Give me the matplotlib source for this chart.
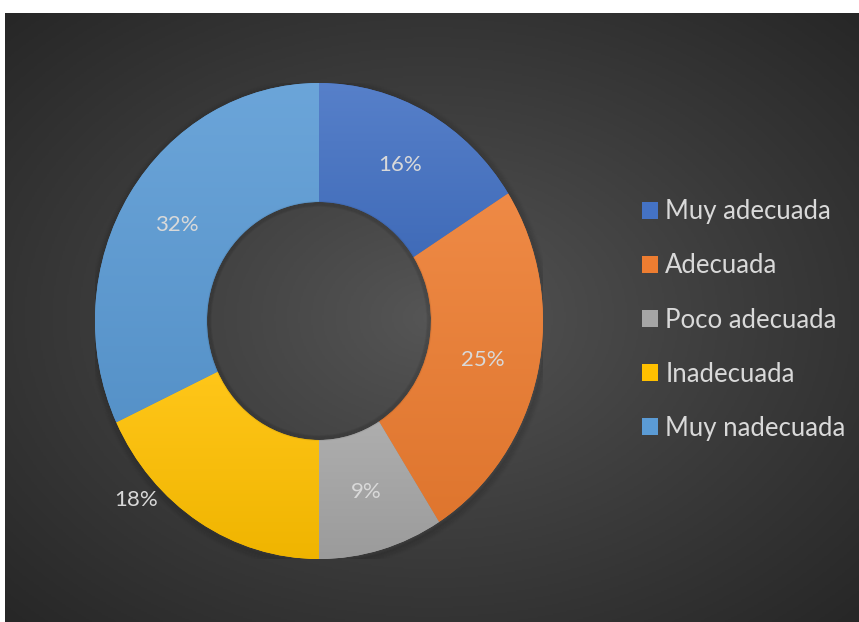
import numpy as np
import matplotlib.pyplot as plt
from matplotlib.colors import to_rgb, LinearSegmentedColormap
from matplotlib.patches import Ellipse

categories = ["Muy adecuada", "Adecuada", "Poco adecuada", "Inadecuada", "Muy nadecuada"]
shares = [16, 25, 9, 18, 32]
colors = ["#4472C4", "#ED7D31", "#A5A5A5", "#FFC000", "#5B9BD5"]

W, H = 859, 622
fig = plt.figure(figsize=(W / 100, H / 100), dpi=100)
fig.patch.set_facecolor("white")

# dark radial background, lighter in the middle
bg = fig.add_axes([5 / W, 0, 854 / W, 609 / H])
yy, xx = np.mgrid[-1:1:400j, -1:1:560j]
rr = np.sqrt(xx ** 2 + yy ** 2) / np.sqrt(2)
shade = np.clip(rr, 0, 1) ** 0.9
bg_cmap = LinearSegmentedColormap.from_list("bg", ["#565656", "#272727"])
bg.imshow(shade, cmap=bg_cmap, aspect="auto", extent=(0, 1, 0, 1), vmin=0, vmax=1)
bg.axis("off")

# donut axes (slightly taller than wide)
cx, cy, rx, ry = 319, 321, 224, 238
ax = fig.add_axes([(cx - rx) / W, (H - cy - ry) / H, 2 * rx / W, 2 * ry / H])
ax.set_facecolor("none")

# soft shadow just outside the ring
for k in range(8):
    s = 1.0 + 0.004 * k
    ax.add_patch(Ellipse((0.006, -0.01), 2 * s, 2 * s, facecolor="none",
                         edgecolor="black", alpha=0.05 * (1 - k / 8), lw=2.0, zorder=0))

wedges, texts, autotexts = ax.pie(
    shares, colors=colors, startangle=90, counterclock=False, radius=1,
    wedgeprops=dict(width=0.5, linewidth=0), autopct="%d%%", pctdistance=0.75,
    textprops=dict(color="#d9d9d9", fontsize=16, family="Lato"))

# shadow along the inner edge of the hole
for k in range(5):
    s = 0.5 - 0.004 * k
    ax.add_patch(Ellipse((0, 0), 2 * s, 2 * s, facecolor="none", edgecolor="black",
                         alpha=0.05, lw=1.5, zorder=3))


def tint(c, f):
    r = np.array(to_rgb(c))
    if f >= 0:
        return tuple(r + (1 - r) * f)
    return tuple(r * (1 + f))


# vertical gradient over each wedge
for w, c in zip(wedges, colors):
    bb = w.get_path().get_extents(w.get_patch_transform())
    grad = np.linspace(0, 1, 256).reshape(-1, 1)
    cmap = LinearSegmentedColormap.from_list("g", [tint(c, 0.1), tint(c, -0.06)])
    im = ax.imshow(grad, cmap=cmap, aspect="auto",
                   extent=(bb.x0, bb.x1, bb.y0, bb.y1), zorder=2)
    im.set_clip_path(w)

for t in autotexts:
    t.set_zorder(5)

# the 18% label sits outside its slice
ang = np.deg2rad(90 - 227.4)
autotexts[3].set_position((1.11 * np.cos(ang), 1.11 * np.sin(ang)))

ax.set_xlim(-1, 1)
ax.set_ylim(-1, 1)
ax.set_aspect("auto")
ax.axis("off")

leg = fig.legend(wedges, categories, loc="center left",
                 bbox_to_anchor=(619 / W, 1 - 320 / H), frameon=False,
                 prop=dict(family="Lato", size=18.5), labelcolor="#d9d9d9",
                 handlelength=0.6, handleheight=0.6, handletextpad=0.3,
                 labelspacing=1.13)

fig.savefig("out.png", dpi=100)
